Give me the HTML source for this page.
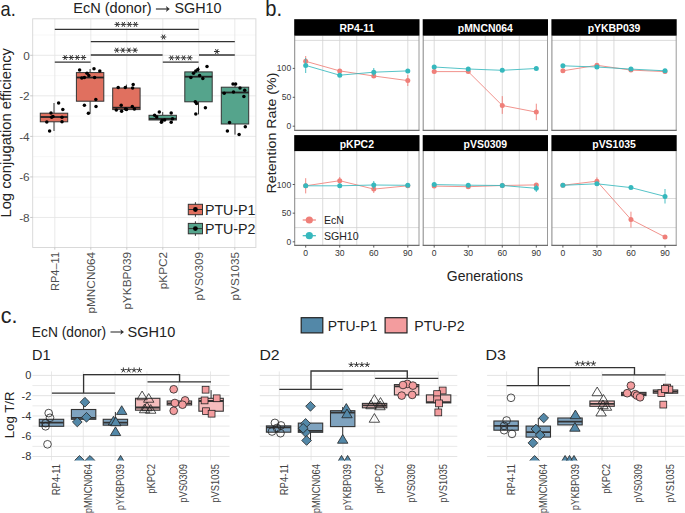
<!DOCTYPE html>
<html><head><meta charset="utf-8"><style>
html,body{margin:0;padding:0;background:#fff;}
svg{display:block;}
text{font-family:"Liberation Sans", sans-serif;}
</style></head><body>
<svg width="685" height="513" viewBox="0 0 685 513">
<rect width="685" height="513" fill="#fff"/>
<text x="0.6" y="16.3" font-size="21" fill="#222" text-anchor="start" font-weight="normal" textLength="15.2" lengthAdjust="spacingAndGlyphs">a.</text>
<text x="73.3" y="13.0" font-size="14.8" fill="#222" text-anchor="start" font-weight="normal" textLength="78.3" lengthAdjust="spacingAndGlyphs">EcN (donor)</text>
<path d="M155.9 9.0L168.0 9.0" stroke="#333" stroke-width="1.2"/><path d="M165.9 6.0L169.8 9.0L165.9 12.0L166.9 9.0Z" fill="#333"/>
<text x="174.4" y="13.0" font-size="14.8" fill="#222" text-anchor="start" font-weight="normal" textLength="47.1" lengthAdjust="spacingAndGlyphs">SGH10</text>
<rect x="32.7" y="18.8" width="223.2" height="228.7" fill="white" stroke="none" stroke-width="1"/>
<line x1="32.7" y1="35.03" x2="255.9" y2="35.03" stroke="#F2F2F2" stroke-width="0.6"/>
<line x1="32.7" y1="75.57" x2="255.9" y2="75.57" stroke="#F2F2F2" stroke-width="0.6"/>
<line x1="32.7" y1="116.11" x2="255.9" y2="116.11" stroke="#F2F2F2" stroke-width="0.6"/>
<line x1="32.7" y1="156.64999999999998" x2="255.9" y2="156.64999999999998" stroke="#F2F2F2" stroke-width="0.6"/>
<line x1="32.7" y1="197.19" x2="255.9" y2="197.19" stroke="#F2F2F2" stroke-width="0.6"/>
<line x1="32.7" y1="55.3" x2="255.9" y2="55.3" stroke="#E3E3E3" stroke-width="0.8"/>
<line x1="32.7" y1="95.84" x2="255.9" y2="95.84" stroke="#E3E3E3" stroke-width="0.8"/>
<line x1="32.7" y1="136.38" x2="255.9" y2="136.38" stroke="#E3E3E3" stroke-width="0.8"/>
<line x1="32.7" y1="176.92000000000002" x2="255.9" y2="176.92000000000002" stroke="#E3E3E3" stroke-width="0.8"/>
<line x1="32.7" y1="217.45999999999998" x2="255.9" y2="217.45999999999998" stroke="#E3E3E3" stroke-width="0.8"/>
<line x1="54.8" y1="18.8" x2="54.8" y2="247.5" stroke="#E3E3E3" stroke-width="0.8"/>
<line x1="90.8" y1="18.8" x2="90.8" y2="247.5" stroke="#E3E3E3" stroke-width="0.8"/>
<line x1="126.8" y1="18.8" x2="126.8" y2="247.5" stroke="#E3E3E3" stroke-width="0.8"/>
<line x1="162.8" y1="18.8" x2="162.8" y2="247.5" stroke="#E3E3E3" stroke-width="0.8"/>
<line x1="198.8" y1="18.8" x2="198.8" y2="247.5" stroke="#E3E3E3" stroke-width="0.8"/>
<line x1="234.8" y1="18.8" x2="234.8" y2="247.5" stroke="#E3E3E3" stroke-width="0.8"/>
<rect x="32.7" y="18.8" width="223.2" height="228.7" fill="none" stroke="#D6D6D6" stroke-width="0.9"/>
<line x1="30.200000000000003" y1="55.3" x2="32.7" y2="55.3" stroke="#BBBBBB" stroke-width="0.8"/>
<text x="29.7" y="59.5" font-size="11.8" fill="#4D4D4D" text-anchor="end" font-weight="normal">0</text>
<line x1="30.200000000000003" y1="95.84" x2="32.7" y2="95.84" stroke="#BBBBBB" stroke-width="0.8"/>
<text x="29.7" y="100.04" font-size="11.8" fill="#4D4D4D" text-anchor="end" font-weight="normal">-2</text>
<line x1="30.200000000000003" y1="136.38" x2="32.7" y2="136.38" stroke="#BBBBBB" stroke-width="0.8"/>
<text x="29.7" y="140.57999999999998" font-size="11.8" fill="#4D4D4D" text-anchor="end" font-weight="normal">-4</text>
<line x1="30.200000000000003" y1="176.92000000000002" x2="32.7" y2="176.92000000000002" stroke="#BBBBBB" stroke-width="0.8"/>
<text x="29.7" y="181.12" font-size="11.8" fill="#4D4D4D" text-anchor="end" font-weight="normal">-6</text>
<line x1="30.200000000000003" y1="217.45999999999998" x2="32.7" y2="217.45999999999998" stroke="#BBBBBB" stroke-width="0.8"/>
<text x="29.7" y="221.65999999999997" font-size="11.8" fill="#4D4D4D" text-anchor="end" font-weight="normal">-8</text>
<line x1="54.8" y1="247.5" x2="54.8" y2="249.7" stroke="#BBBBBB" stroke-width="0.8"/>
<line x1="90.8" y1="247.5" x2="90.8" y2="249.7" stroke="#BBBBBB" stroke-width="0.8"/>
<line x1="126.8" y1="247.5" x2="126.8" y2="249.7" stroke="#BBBBBB" stroke-width="0.8"/>
<line x1="162.8" y1="247.5" x2="162.8" y2="249.7" stroke="#BBBBBB" stroke-width="0.8"/>
<line x1="198.8" y1="247.5" x2="198.8" y2="249.7" stroke="#BBBBBB" stroke-width="0.8"/>
<line x1="234.8" y1="247.5" x2="234.8" y2="249.7" stroke="#BBBBBB" stroke-width="0.8"/>
<text x="59.0" y="251.9" font-size="11.8" fill="#4D4D4D" text-anchor="end" font-weight="normal" transform="rotate(-90 59.0 251.9)" textLength="39.2" lengthAdjust="spacingAndGlyphs">RP4–11</text>
<text x="95.0" y="251.9" font-size="11.8" fill="#4D4D4D" text-anchor="end" font-weight="normal" transform="rotate(-90 95.0 251.9)">pMNCN064</text>
<text x="131.0" y="251.9" font-size="11.8" fill="#4D4D4D" text-anchor="end" font-weight="normal" transform="rotate(-90 131.0 251.9)">pYKBP039</text>
<text x="167.0" y="251.9" font-size="11.8" fill="#4D4D4D" text-anchor="end" font-weight="normal" transform="rotate(-90 167.0 251.9)">pKPC2</text>
<text x="203.0" y="251.9" font-size="11.8" fill="#4D4D4D" text-anchor="end" font-weight="normal" transform="rotate(-90 203.0 251.9)">pVS0309</text>
<text x="239.0" y="251.9" font-size="11.8" fill="#4D4D4D" text-anchor="end" font-weight="normal" transform="rotate(-90 239.0 251.9)">pVS1035</text>
<text x="11.4" y="132.8" font-size="14.2" fill="#222" text-anchor="middle" font-weight="normal" transform="rotate(-90 11.4 132.8)" textLength="169.5" lengthAdjust="spacingAndGlyphs">Log conjugation efficiency</text>
<line x1="54.0" y1="103.0" x2="54.0" y2="113.2" stroke="#333333" stroke-width="1.0"/>
<line x1="54.0" y1="121.8" x2="54.0" y2="131.0" stroke="#333333" stroke-width="1.0"/>
<rect x="40.3" y="113.2" width="27.4" height="8.599999999999994" fill="#E0705F" stroke="#333333" stroke-width="1.0"/>
<line x1="40.3" y1="117.0" x2="67.7" y2="117.0" stroke="#222" stroke-width="1.8"/>
<line x1="90.1" y1="69.0" x2="90.1" y2="72.6" stroke="#333333" stroke-width="1.0"/>
<line x1="90.1" y1="101.2" x2="90.1" y2="113.5" stroke="#333333" stroke-width="1.0"/>
<rect x="76.39999999999999" y="72.6" width="27.4" height="28.60000000000001" fill="#E0705F" stroke="#333333" stroke-width="1.0"/>
<line x1="76.39999999999999" y1="77.5" x2="103.8" y2="77.5" stroke="#222" stroke-width="1.8"/>
<line x1="126.4" y1="84.6" x2="126.4" y2="88.0" stroke="#333333" stroke-width="1.0"/>
<line x1="126.4" y1="109.6" x2="126.4" y2="110.8" stroke="#333333" stroke-width="1.0"/>
<rect x="112.7" y="88.0" width="27.4" height="21.599999999999994" fill="#E0705F" stroke="#333333" stroke-width="1.0"/>
<line x1="112.7" y1="107.7" x2="140.1" y2="107.7" stroke="#222" stroke-width="1.8"/>
<line x1="162.7" y1="112.1" x2="162.7" y2="115.3" stroke="#333333" stroke-width="1.0"/>
<line x1="162.7" y1="120.0" x2="162.7" y2="122.3" stroke="#333333" stroke-width="1.0"/>
<rect x="149.0" y="115.3" width="27.4" height="4.700000000000003" fill="#55A48C" stroke="#333333" stroke-width="1.0"/>
<line x1="149.0" y1="118.8" x2="176.39999999999998" y2="118.8" stroke="#222" stroke-width="1.8"/>
<line x1="198.5" y1="66.7" x2="198.5" y2="71.9" stroke="#333333" stroke-width="1.0"/>
<line x1="198.5" y1="101.8" x2="198.5" y2="114.4" stroke="#333333" stroke-width="1.0"/>
<rect x="184.8" y="71.9" width="27.4" height="29.89999999999999" fill="#55A48C" stroke="#333333" stroke-width="1.0"/>
<line x1="184.8" y1="76.7" x2="212.2" y2="76.7" stroke="#222" stroke-width="1.8"/>
<line x1="235.0" y1="84.2" x2="235.0" y2="87.2" stroke="#333333" stroke-width="1.0"/>
<line x1="235.0" y1="124.0" x2="235.0" y2="134.6" stroke="#333333" stroke-width="1.0"/>
<rect x="221.3" y="87.2" width="27.4" height="36.8" fill="#55A48C" stroke="#333333" stroke-width="1.0"/>
<line x1="221.3" y1="92.5" x2="248.7" y2="92.5" stroke="#222" stroke-width="1.8"/>
<circle cx="58.6" cy="103" r="1.75" fill="#000" stroke="none" stroke-width="1"/>
<circle cx="62.8" cy="109.5" r="1.75" fill="#000" stroke="none" stroke-width="1"/>
<circle cx="51" cy="113" r="1.75" fill="#000" stroke="none" stroke-width="1"/>
<circle cx="51.6" cy="117.2" r="1.75" fill="#000" stroke="none" stroke-width="1"/>
<circle cx="53" cy="116.6" r="1.75" fill="#000" stroke="none" stroke-width="1"/>
<circle cx="62" cy="117.2" r="1.75" fill="#000" stroke="none" stroke-width="1"/>
<circle cx="46.8" cy="122" r="1.75" fill="#000" stroke="none" stroke-width="1"/>
<circle cx="62" cy="121.8" r="1.75" fill="#000" stroke="none" stroke-width="1"/>
<circle cx="49.6" cy="131" r="1.75" fill="#000" stroke="none" stroke-width="1"/>
<circle cx="79.6" cy="70" r="1.75" fill="#000" stroke="none" stroke-width="1"/>
<circle cx="94" cy="68.8" r="1.75" fill="#000" stroke="none" stroke-width="1"/>
<circle cx="99.8" cy="70.9" r="1.75" fill="#000" stroke="none" stroke-width="1"/>
<circle cx="87" cy="73.3" r="1.75" fill="#000" stroke="none" stroke-width="1"/>
<circle cx="88.8" cy="75.4" r="1.75" fill="#000" stroke="none" stroke-width="1"/>
<circle cx="81.8" cy="78" r="1.75" fill="#000" stroke="none" stroke-width="1"/>
<circle cx="84.4" cy="77.5" r="1.75" fill="#000" stroke="none" stroke-width="1"/>
<circle cx="94.6" cy="77.5" r="1.75" fill="#000" stroke="none" stroke-width="1"/>
<circle cx="95.8" cy="99.5" r="1.75" fill="#000" stroke="none" stroke-width="1"/>
<circle cx="84.4" cy="105.3" r="1.75" fill="#000" stroke="none" stroke-width="1"/>
<circle cx="96" cy="106.5" r="1.75" fill="#000" stroke="none" stroke-width="1"/>
<circle cx="88.4" cy="113.2" r="1.75" fill="#000" stroke="none" stroke-width="1"/>
<circle cx="118.2" cy="87.5" r="1.75" fill="#000" stroke="none" stroke-width="1"/>
<circle cx="125.3" cy="87.5" r="1.75" fill="#000" stroke="none" stroke-width="1"/>
<circle cx="133.2" cy="84.6" r="1.75" fill="#000" stroke="none" stroke-width="1"/>
<circle cx="132.6" cy="88" r="1.75" fill="#000" stroke="none" stroke-width="1"/>
<circle cx="121.2" cy="105.3" r="1.75" fill="#000" stroke="none" stroke-width="1"/>
<circle cx="116.3" cy="110" r="1.75" fill="#000" stroke="none" stroke-width="1"/>
<circle cx="121.6" cy="111.2" r="1.75" fill="#000" stroke="none" stroke-width="1"/>
<circle cx="125.6" cy="109.1" r="1.75" fill="#000" stroke="none" stroke-width="1"/>
<circle cx="126.5" cy="109.6" r="1.75" fill="#000" stroke="none" stroke-width="1"/>
<circle cx="132.3" cy="106.5" r="1.75" fill="#000" stroke="none" stroke-width="1"/>
<circle cx="134.4" cy="109" r="1.75" fill="#000" stroke="none" stroke-width="1"/>
<circle cx="159.3" cy="112.1" r="1.75" fill="#000" stroke="none" stroke-width="1"/>
<circle cx="171.2" cy="113" r="1.75" fill="#000" stroke="none" stroke-width="1"/>
<circle cx="154.6" cy="115.3" r="1.75" fill="#000" stroke="none" stroke-width="1"/>
<circle cx="156.7" cy="117" r="1.75" fill="#000" stroke="none" stroke-width="1"/>
<circle cx="162" cy="120.5" r="1.75" fill="#000" stroke="none" stroke-width="1"/>
<circle cx="161.4" cy="122.3" r="1.75" fill="#000" stroke="none" stroke-width="1"/>
<circle cx="164.6" cy="120" r="1.75" fill="#000" stroke="none" stroke-width="1"/>
<circle cx="171.2" cy="122.3" r="1.75" fill="#000" stroke="none" stroke-width="1"/>
<circle cx="172.5" cy="118.8" r="1.75" fill="#000" stroke="none" stroke-width="1"/>
<circle cx="207" cy="66.5" r="1.75" fill="#000" stroke="none" stroke-width="1"/>
<circle cx="197.9" cy="69.6" r="1.75" fill="#000" stroke="none" stroke-width="1"/>
<circle cx="195.8" cy="70.9" r="1.75" fill="#000" stroke="none" stroke-width="1"/>
<circle cx="193.5" cy="73.2" r="1.75" fill="#000" stroke="none" stroke-width="1"/>
<circle cx="190.9" cy="77.5" r="1.75" fill="#000" stroke="none" stroke-width="1"/>
<circle cx="199.6" cy="75.4" r="1.75" fill="#000" stroke="none" stroke-width="1"/>
<circle cx="202.8" cy="78.4" r="1.75" fill="#000" stroke="none" stroke-width="1"/>
<circle cx="195.3" cy="101.8" r="1.75" fill="#000" stroke="none" stroke-width="1"/>
<circle cx="196.5" cy="103.5" r="1.75" fill="#000" stroke="none" stroke-width="1"/>
<circle cx="205.4" cy="107.7" r="1.75" fill="#000" stroke="none" stroke-width="1"/>
<circle cx="195.8" cy="114" r="1.75" fill="#000" stroke="none" stroke-width="1"/>
<circle cx="233" cy="84" r="1.75" fill="#000" stroke="none" stroke-width="1"/>
<circle cx="235.6" cy="84" r="1.75" fill="#000" stroke="none" stroke-width="1"/>
<circle cx="240" cy="88" r="1.75" fill="#000" stroke="none" stroke-width="1"/>
<circle cx="244.7" cy="90.2" r="1.75" fill="#000" stroke="none" stroke-width="1"/>
<circle cx="224.2" cy="93.3" r="1.75" fill="#000" stroke="none" stroke-width="1"/>
<circle cx="233.5" cy="92" r="1.75" fill="#000" stroke="none" stroke-width="1"/>
<circle cx="243.9" cy="96.5" r="1.75" fill="#000" stroke="none" stroke-width="1"/>
<circle cx="229.5" cy="122.6" r="1.75" fill="#000" stroke="none" stroke-width="1"/>
<circle cx="245.3" cy="126.7" r="1.75" fill="#000" stroke="none" stroke-width="1"/>
<circle cx="227.4" cy="131" r="1.75" fill="#000" stroke="none" stroke-width="1"/>
<circle cx="239.1" cy="134.6" r="1.75" fill="#000" stroke="none" stroke-width="1"/>
<line x1="54.8" y1="29.3" x2="198.8" y2="29.3" stroke="#333333" stroke-width="1.3"/>
<path d="M114.50 24.40L120.09 24.40M115.89 21.98L118.70 26.82M118.70 21.98L115.89 26.82" stroke="#333333" stroke-width="1.0" fill="none"/>
<path d="M120.57 24.40L126.17 24.40M121.97 21.98L124.77 26.82M124.77 21.98L121.97 26.82" stroke="#333333" stroke-width="1.0" fill="none"/>
<path d="M126.64 24.40L132.24 24.40M128.03 21.98L130.84 26.82M130.84 21.98L128.03 26.82" stroke="#333333" stroke-width="1.0" fill="none"/>
<path d="M132.70 24.40L138.31 24.40M134.10 21.98L136.91 26.82M136.91 21.98L134.10 26.82" stroke="#333333" stroke-width="1.0" fill="none"/>
<line x1="90.8" y1="41.6" x2="234.8" y2="41.6" stroke="#333333" stroke-width="1.3"/>
<path d="M160.70 37.00L166.30 37.00M162.10 34.58L164.90 39.42M164.90 34.58L162.10 39.42" stroke="#333333" stroke-width="1.0" fill="none"/>
<line x1="90.8" y1="55.0" x2="162.6" y2="55.0" stroke="#333333" stroke-width="1.3"/>
<path d="M114.00 50.20L119.59 50.20M115.39 47.78L118.20 52.62M118.20 47.78L115.39 52.62" stroke="#333333" stroke-width="1.0" fill="none"/>
<path d="M120.07 50.20L125.67 50.20M121.47 47.78L124.27 52.62M124.27 47.78L121.47 52.62" stroke="#333333" stroke-width="1.0" fill="none"/>
<path d="M126.14 50.20L131.74 50.20M127.53 47.78L130.34 52.62M130.34 47.78L127.53 52.62" stroke="#333333" stroke-width="1.0" fill="none"/>
<path d="M132.20 50.20L137.81 50.20M133.60 47.78L136.41 52.62M136.41 47.78L133.60 52.62" stroke="#333333" stroke-width="1.0" fill="none"/>
<line x1="199.0" y1="55.0" x2="234.8" y2="55.0" stroke="#333333" stroke-width="1.3"/>
<path d="M214.00 51.50L219.60 51.50M215.40 49.08L218.20 53.92M218.20 49.08L215.40 53.92" stroke="#333333" stroke-width="1.0" fill="none"/>
<line x1="54.8" y1="62.2" x2="90.6" y2="62.2" stroke="#333333" stroke-width="1.3"/>
<path d="M62.39 57.50L67.99 57.50M63.79 55.08L66.59 59.92M66.59 55.08L63.79 59.92" stroke="#333333" stroke-width="1.0" fill="none"/>
<path d="M68.47 57.50L74.06 57.50M69.86 55.08L72.67 59.92M72.67 55.08L69.86 59.92" stroke="#333333" stroke-width="1.0" fill="none"/>
<path d="M74.53 57.50L80.13 57.50M75.93 55.08L78.73 59.92M78.73 55.08L75.93 59.92" stroke="#333333" stroke-width="1.0" fill="none"/>
<path d="M80.61 57.50L86.20 57.50M82.00 55.08L84.81 59.92M84.81 55.08L82.00 59.92" stroke="#333333" stroke-width="1.0" fill="none"/>
<line x1="162.8" y1="62.1" x2="198.6" y2="62.1" stroke="#333333" stroke-width="1.3"/>
<path d="M168.69 57.80L174.30 57.80M170.09 55.38L172.90 60.22M172.90 55.38L170.09 60.22" stroke="#333333" stroke-width="1.0" fill="none"/>
<path d="M174.76 57.80L180.37 57.80M176.16 55.38L178.97 60.22M178.97 55.38L176.16 60.22" stroke="#333333" stroke-width="1.0" fill="none"/>
<path d="M180.83 57.80L186.44 57.80M182.23 55.38L185.03 60.22M185.03 55.38L182.23 60.22" stroke="#333333" stroke-width="1.0" fill="none"/>
<path d="M186.90 57.80L192.50 57.80M188.30 55.38L191.10 60.22M191.10 55.38L188.30 60.22" stroke="#333333" stroke-width="1.0" fill="none"/>
<line x1="195.4" y1="202.2" x2="195.4" y2="216.8" stroke="#333333" stroke-width="1.0"/>
<rect x="188.3" y="204.3" width="14.2" height="10.4" fill="#E0705F" stroke="#333333" stroke-width="1.0"/>
<line x1="188.3" y1="209.5" x2="202.5" y2="209.5" stroke="#333333" stroke-width="1.0"/>
<circle cx="195.4" cy="209.5" r="2.4" fill="#000" stroke="none" stroke-width="1"/>
<text x="204.9" y="214.6" font-size="14.2" fill="#222" text-anchor="start" font-weight="normal" textLength="50.6" lengthAdjust="spacingAndGlyphs">PTU-P1</text>
<line x1="195.4" y1="221.29999999999998" x2="195.4" y2="235.9" stroke="#333333" stroke-width="1.0"/>
<rect x="188.3" y="223.4" width="14.2" height="10.4" fill="#55A48C" stroke="#333333" stroke-width="1.0"/>
<line x1="188.3" y1="228.6" x2="202.5" y2="228.6" stroke="#333333" stroke-width="1.0"/>
<circle cx="195.4" cy="228.6" r="2.4" fill="#000" stroke="none" stroke-width="1"/>
<text x="204.9" y="233.7" font-size="14.2" fill="#222" text-anchor="start" font-weight="normal" textLength="50.6" lengthAdjust="spacingAndGlyphs">PTU-P2</text>
<text x="265.3" y="15.7" font-size="22.5" fill="#222" text-anchor="start" font-weight="normal" textLength="16.8" lengthAdjust="spacingAndGlyphs">b.</text>
<rect x="294.7" y="35.7" width="124.3" height="94.7" fill="white" stroke="none" stroke-width="1"/>
<line x1="294.7" y1="40.4" x2="419.0" y2="40.4" stroke="#D2D2D2" stroke-width="0.8"/>
<line x1="322.71666666666664" y1="35.7" x2="322.71666666666664" y2="130.4" stroke="#D2D2D2" stroke-width="0.8"/>
<line x1="339.73333333333335" y1="35.7" x2="339.73333333333335" y2="130.4" stroke="#D2D2D2" stroke-width="0.8"/>
<line x1="356.75" y1="35.7" x2="356.75" y2="130.4" stroke="#D2D2D2" stroke-width="0.8"/>
<line x1="407.79999999999995" y1="35.7" x2="407.79999999999995" y2="130.4" stroke="#D2D2D2" stroke-width="0.8"/>
<line x1="294.7" y1="35.7" x2="294.7" y2="130.4" stroke="#8A8A8A" stroke-width="1.05"/>
<line x1="419.0" y1="35.7" x2="419.0" y2="130.4" stroke="#9A9A9A" stroke-width="1.0"/>
<line x1="294.2" y1="130.4" x2="419.5" y2="130.4" stroke="#6E6E6E" stroke-width="1.1"/>
<rect x="294.2" y="19.2" width="125.3" height="16.500000000000004" fill="#000" stroke="none" stroke-width="1"/>
<text x="356.84999999999997" y="31.6" font-size="10.45" fill="#fff" text-anchor="middle" font-weight="bold">RP4-11</text>
<polyline points="305.7,61.3 339.7,70.9 373.8,76.0 407.8,80.6" fill="none" stroke="#EF7F79" stroke-width="0.85"/>
<line x1="305.7" y1="56" x2="305.7" y2="67" stroke="#EF7F79" stroke-width="0.9"/>
<circle cx="305.7" cy="61.3" r="2.5" fill="#EF7F79" stroke="none" stroke-width="1"/>
<circle cx="339.73333333333335" cy="70.9" r="2.5" fill="#EF7F79" stroke="none" stroke-width="1"/>
<circle cx="373.76666666666665" cy="76.0" r="2.5" fill="#EF7F79" stroke="none" stroke-width="1"/>
<line x1="407.79999999999995" y1="75" x2="407.79999999999995" y2="86" stroke="#EF7F79" stroke-width="0.9"/>
<circle cx="407.79999999999995" cy="80.6" r="2.5" fill="#EF7F79" stroke="none" stroke-width="1"/>
<polyline points="305.7,65.4 339.7,75.2 373.8,72.2 407.8,70.9" fill="none" stroke="#36B8BD" stroke-width="0.85"/>
<line x1="305.7" y1="58" x2="305.7" y2="73" stroke="#36B8BD" stroke-width="0.9"/>
<circle cx="305.7" cy="65.4" r="2.5" fill="#36B8BD" stroke="none" stroke-width="1"/>
<circle cx="339.73333333333335" cy="75.2" r="2.5" fill="#36B8BD" stroke="none" stroke-width="1"/>
<line x1="373.76666666666665" y1="68" x2="373.76666666666665" y2="76" stroke="#36B8BD" stroke-width="0.9"/>
<circle cx="373.76666666666665" cy="72.2" r="2.5" fill="#36B8BD" stroke="none" stroke-width="1"/>
<circle cx="407.79999999999995" cy="70.9" r="2.5" fill="#36B8BD" stroke="none" stroke-width="1"/>
<rect x="423.2" y="35.7" width="124.3" height="94.7" fill="white" stroke="none" stroke-width="1"/>
<line x1="423.2" y1="40.4" x2="547.5" y2="40.4" stroke="#D2D2D2" stroke-width="0.8"/>
<line x1="434.2" y1="35.7" x2="434.2" y2="130.4" stroke="#D2D2D2" stroke-width="0.8"/>
<line x1="485.25" y1="35.7" x2="485.25" y2="130.4" stroke="#D2D2D2" stroke-width="0.8"/>
<line x1="502.26666666666665" y1="35.7" x2="502.26666666666665" y2="130.4" stroke="#D2D2D2" stroke-width="0.8"/>
<line x1="519.2833333333333" y1="35.7" x2="519.2833333333333" y2="130.4" stroke="#D2D2D2" stroke-width="0.8"/>
<line x1="423.2" y1="35.7" x2="423.2" y2="130.4" stroke="#8A8A8A" stroke-width="1.05"/>
<line x1="547.5" y1="35.7" x2="547.5" y2="130.4" stroke="#9A9A9A" stroke-width="1.0"/>
<line x1="422.7" y1="130.4" x2="548.0" y2="130.4" stroke="#6E6E6E" stroke-width="1.1"/>
<rect x="422.7" y="19.2" width="125.3" height="16.500000000000004" fill="#000" stroke="none" stroke-width="1"/>
<text x="485.34999999999997" y="31.6" font-size="10.45" fill="#fff" text-anchor="middle" font-weight="bold">pMNCN064</text>
<polyline points="434.2,71.6 468.2,71.6 502.3,105.5 536.3,112.1" fill="none" stroke="#EF7F79" stroke-width="0.85"/>
<circle cx="434.2" cy="71.6" r="2.5" fill="#EF7F79" stroke="none" stroke-width="1"/>
<circle cx="468.23333333333335" cy="71.6" r="2.5" fill="#EF7F79" stroke="none" stroke-width="1"/>
<line x1="502.26666666666665" y1="96.1" x2="502.26666666666665" y2="113.9" stroke="#EF7F79" stroke-width="0.9"/>
<circle cx="502.26666666666665" cy="105.5" r="2.5" fill="#EF7F79" stroke="none" stroke-width="1"/>
<line x1="536.3" y1="103.7" x2="536.3" y2="120.2" stroke="#EF7F79" stroke-width="0.9"/>
<circle cx="536.3" cy="112.1" r="2.5" fill="#EF7F79" stroke="none" stroke-width="1"/>
<polyline points="434.2,67.0 468.2,69.0 502.3,70.3 536.3,68.5" fill="none" stroke="#36B8BD" stroke-width="0.85"/>
<circle cx="434.2" cy="67.0" r="2.5" fill="#36B8BD" stroke="none" stroke-width="1"/>
<circle cx="468.23333333333335" cy="69.0" r="2.5" fill="#36B8BD" stroke="none" stroke-width="1"/>
<circle cx="502.26666666666665" cy="70.3" r="2.5" fill="#36B8BD" stroke="none" stroke-width="1"/>
<circle cx="536.3" cy="68.5" r="2.5" fill="#36B8BD" stroke="none" stroke-width="1"/>
<rect x="551.9" y="35.7" width="124.3" height="94.7" fill="white" stroke="none" stroke-width="1"/>
<line x1="551.9" y1="40.4" x2="676.1999999999999" y2="40.4" stroke="#D2D2D2" stroke-width="0.8"/>
<line x1="579.9166666666666" y1="35.7" x2="579.9166666666666" y2="130.4" stroke="#D2D2D2" stroke-width="0.8"/>
<line x1="596.9333333333333" y1="35.7" x2="596.9333333333333" y2="130.4" stroke="#D2D2D2" stroke-width="0.8"/>
<line x1="613.9499999999999" y1="35.7" x2="613.9499999999999" y2="130.4" stroke="#D2D2D2" stroke-width="0.8"/>
<line x1="551.9" y1="35.7" x2="551.9" y2="130.4" stroke="#8A8A8A" stroke-width="1.05"/>
<line x1="676.1999999999999" y1="35.7" x2="676.1999999999999" y2="130.4" stroke="#9A9A9A" stroke-width="1.0"/>
<line x1="551.4" y1="130.4" x2="676.6999999999999" y2="130.4" stroke="#6E6E6E" stroke-width="1.1"/>
<rect x="551.4" y="19.2" width="125.3" height="16.500000000000004" fill="#000" stroke="none" stroke-width="1"/>
<text x="614.05" y="31.6" font-size="10.45" fill="#fff" text-anchor="middle" font-weight="bold">pYKBP039</text>
<polyline points="562.9,70.8 596.9,65.3 631.0,70.1 665.0,71.6" fill="none" stroke="#EF7F79" stroke-width="0.85"/>
<circle cx="562.9" cy="70.8" r="2.5" fill="#EF7F79" stroke="none" stroke-width="1"/>
<circle cx="596.9333333333333" cy="65.3" r="2.5" fill="#EF7F79" stroke="none" stroke-width="1"/>
<circle cx="630.9666666666667" cy="70.1" r="2.5" fill="#EF7F79" stroke="none" stroke-width="1"/>
<circle cx="665.0" cy="71.6" r="2.5" fill="#EF7F79" stroke="none" stroke-width="1"/>
<polyline points="562.9,65.8 596.9,67.0 631.0,69.1 665.0,70.8" fill="none" stroke="#36B8BD" stroke-width="0.85"/>
<circle cx="562.9" cy="65.8" r="2.5" fill="#36B8BD" stroke="none" stroke-width="1"/>
<circle cx="596.9333333333333" cy="67.0" r="2.5" fill="#36B8BD" stroke="none" stroke-width="1"/>
<circle cx="630.9666666666667" cy="69.1" r="2.5" fill="#36B8BD" stroke="none" stroke-width="1"/>
<circle cx="665.0" cy="70.8" r="2.5" fill="#36B8BD" stroke="none" stroke-width="1"/>
<line x1="292.7" y1="68.4" x2="294.7" y2="68.4" stroke="#333" stroke-width="0.8"/>
<text x="291.2" y="71.4" font-size="8.6" fill="#3a3a3a" text-anchor="end" font-weight="normal">100</text>
<line x1="292.7" y1="97.30000000000001" x2="294.7" y2="97.30000000000001" stroke="#333" stroke-width="0.8"/>
<text x="291.2" y="100.30000000000001" font-size="8.6" fill="#3a3a3a" text-anchor="end" font-weight="normal">50</text>
<line x1="292.7" y1="126.2" x2="294.7" y2="126.2" stroke="#333" stroke-width="0.8"/>
<text x="291.2" y="129.2" font-size="8.6" fill="#3a3a3a" text-anchor="end" font-weight="normal">0</text>
<rect x="294.7" y="151.1" width="124.3" height="94.30000000000001" fill="white" stroke="none" stroke-width="1"/>
<line x1="294.7" y1="198.5" x2="419.0" y2="198.5" stroke="#D2D2D2" stroke-width="0.8"/>
<line x1="294.7" y1="227.6" x2="419.0" y2="227.6" stroke="#D2D2D2" stroke-width="0.8"/>
<line x1="322.71666666666664" y1="151.1" x2="322.71666666666664" y2="245.4" stroke="#D2D2D2" stroke-width="0.8"/>
<line x1="339.73333333333335" y1="151.1" x2="339.73333333333335" y2="245.4" stroke="#D2D2D2" stroke-width="0.8"/>
<line x1="356.75" y1="151.1" x2="356.75" y2="245.4" stroke="#D2D2D2" stroke-width="0.8"/>
<line x1="407.79999999999995" y1="151.1" x2="407.79999999999995" y2="245.4" stroke="#D2D2D2" stroke-width="0.8"/>
<line x1="294.7" y1="151.1" x2="294.7" y2="245.4" stroke="#8A8A8A" stroke-width="1.05"/>
<line x1="419.0" y1="151.1" x2="419.0" y2="245.4" stroke="#9A9A9A" stroke-width="1.0"/>
<line x1="294.2" y1="245.4" x2="419.5" y2="245.4" stroke="#6E6E6E" stroke-width="1.1"/>
<rect x="294.2" y="135.1" width="125.3" height="16.0" fill="#000" stroke="none" stroke-width="1"/>
<text x="356.84999999999997" y="147.5" font-size="10.45" fill="#fff" text-anchor="middle" font-weight="bold">pKPC2</text>
<polyline points="305.7,185.8 339.7,180.7 373.8,189.1 407.8,185.8" fill="none" stroke="#EF7F79" stroke-width="0.85"/>
<line x1="305.7" y1="178.2" x2="305.7" y2="193.4" stroke="#EF7F79" stroke-width="0.9"/>
<circle cx="305.7" cy="185.8" r="2.5" fill="#EF7F79" stroke="none" stroke-width="1"/>
<line x1="339.73333333333335" y1="177" x2="339.73333333333335" y2="184" stroke="#EF7F79" stroke-width="0.9"/>
<circle cx="339.73333333333335" cy="180.7" r="2.5" fill="#EF7F79" stroke="none" stroke-width="1"/>
<line x1="373.76666666666665" y1="185" x2="373.76666666666665" y2="193" stroke="#EF7F79" stroke-width="0.9"/>
<circle cx="373.76666666666665" cy="189.1" r="2.5" fill="#EF7F79" stroke="none" stroke-width="1"/>
<circle cx="407.79999999999995" cy="185.8" r="2.5" fill="#EF7F79" stroke="none" stroke-width="1"/>
<polyline points="305.7,185.8 339.7,185.8 373.8,185.0 407.8,185.3" fill="none" stroke="#36B8BD" stroke-width="0.85"/>
<circle cx="305.7" cy="185.8" r="2.5" fill="#36B8BD" stroke="none" stroke-width="1"/>
<circle cx="339.73333333333335" cy="185.8" r="2.5" fill="#36B8BD" stroke="none" stroke-width="1"/>
<line x1="373.76666666666665" y1="181" x2="373.76666666666665" y2="189" stroke="#36B8BD" stroke-width="0.9"/>
<circle cx="373.76666666666665" cy="185.0" r="2.5" fill="#36B8BD" stroke="none" stroke-width="1"/>
<circle cx="407.79999999999995" cy="185.3" r="2.5" fill="#36B8BD" stroke="none" stroke-width="1"/>
<rect x="423.2" y="151.1" width="124.3" height="94.30000000000001" fill="white" stroke="none" stroke-width="1"/>
<line x1="423.2" y1="198.5" x2="547.5" y2="198.5" stroke="#D2D2D2" stroke-width="0.8"/>
<line x1="423.2" y1="227.6" x2="547.5" y2="227.6" stroke="#D2D2D2" stroke-width="0.8"/>
<line x1="434.2" y1="151.1" x2="434.2" y2="245.4" stroke="#D2D2D2" stroke-width="0.8"/>
<line x1="485.25" y1="151.1" x2="485.25" y2="245.4" stroke="#D2D2D2" stroke-width="0.8"/>
<line x1="502.26666666666665" y1="151.1" x2="502.26666666666665" y2="245.4" stroke="#D2D2D2" stroke-width="0.8"/>
<line x1="519.2833333333333" y1="151.1" x2="519.2833333333333" y2="245.4" stroke="#D2D2D2" stroke-width="0.8"/>
<line x1="423.2" y1="151.1" x2="423.2" y2="245.4" stroke="#8A8A8A" stroke-width="1.05"/>
<line x1="547.5" y1="151.1" x2="547.5" y2="245.4" stroke="#9A9A9A" stroke-width="1.0"/>
<line x1="422.7" y1="245.4" x2="548.0" y2="245.4" stroke="#6E6E6E" stroke-width="1.1"/>
<rect x="422.7" y="135.1" width="125.3" height="16.0" fill="#000" stroke="none" stroke-width="1"/>
<text x="485.34999999999997" y="147.5" font-size="10.45" fill="#fff" text-anchor="middle" font-weight="bold">pVS0309</text>
<polyline points="434.2,186.1 468.2,186.7 502.3,185.5 536.3,184.9" fill="none" stroke="#EF7F79" stroke-width="0.85"/>
<circle cx="434.2" cy="186.1" r="2.5" fill="#EF7F79" stroke="none" stroke-width="1"/>
<circle cx="468.23333333333335" cy="186.7" r="2.5" fill="#EF7F79" stroke="none" stroke-width="1"/>
<circle cx="502.26666666666665" cy="185.5" r="2.5" fill="#EF7F79" stroke="none" stroke-width="1"/>
<circle cx="536.3" cy="184.9" r="2.5" fill="#EF7F79" stroke="none" stroke-width="1"/>
<polyline points="434.2,184.6 468.2,185.2 502.3,185.5 536.3,188.3" fill="none" stroke="#36B8BD" stroke-width="0.85"/>
<circle cx="434.2" cy="184.6" r="2.5" fill="#36B8BD" stroke="none" stroke-width="1"/>
<circle cx="468.23333333333335" cy="185.2" r="2.5" fill="#36B8BD" stroke="none" stroke-width="1"/>
<circle cx="502.26666666666665" cy="185.5" r="2.5" fill="#36B8BD" stroke="none" stroke-width="1"/>
<line x1="536.3" y1="184.5" x2="536.3" y2="192" stroke="#36B8BD" stroke-width="0.9"/>
<circle cx="536.3" cy="188.3" r="2.5" fill="#36B8BD" stroke="none" stroke-width="1"/>
<rect x="551.9" y="151.1" width="124.3" height="94.30000000000001" fill="white" stroke="none" stroke-width="1"/>
<line x1="551.9" y1="198.5" x2="676.1999999999999" y2="198.5" stroke="#D2D2D2" stroke-width="0.8"/>
<line x1="551.9" y1="227.6" x2="676.1999999999999" y2="227.6" stroke="#D2D2D2" stroke-width="0.8"/>
<line x1="579.9166666666666" y1="151.1" x2="579.9166666666666" y2="245.4" stroke="#D2D2D2" stroke-width="0.8"/>
<line x1="596.9333333333333" y1="151.1" x2="596.9333333333333" y2="245.4" stroke="#D2D2D2" stroke-width="0.8"/>
<line x1="613.9499999999999" y1="151.1" x2="613.9499999999999" y2="245.4" stroke="#D2D2D2" stroke-width="0.8"/>
<line x1="551.9" y1="151.1" x2="551.9" y2="245.4" stroke="#8A8A8A" stroke-width="1.05"/>
<line x1="676.1999999999999" y1="151.1" x2="676.1999999999999" y2="245.4" stroke="#9A9A9A" stroke-width="1.0"/>
<line x1="551.4" y1="245.4" x2="676.6999999999999" y2="245.4" stroke="#6E6E6E" stroke-width="1.1"/>
<rect x="551.4" y="135.1" width="125.3" height="16.0" fill="#000" stroke="none" stroke-width="1"/>
<text x="614.05" y="147.5" font-size="10.45" fill="#fff" text-anchor="middle" font-weight="bold">pVS1035</text>
<polyline points="562.9,185.3 596.9,181.2 631.0,219.5 665.0,237.0" fill="none" stroke="#EF7F79" stroke-width="0.85"/>
<circle cx="562.9" cy="185.3" r="2.5" fill="#EF7F79" stroke="none" stroke-width="1"/>
<line x1="596.9333333333333" y1="177.4" x2="596.9333333333333" y2="185" stroke="#EF7F79" stroke-width="0.9"/>
<circle cx="596.9333333333333" cy="181.2" r="2.5" fill="#EF7F79" stroke="none" stroke-width="1"/>
<line x1="630.9666666666667" y1="211.7" x2="630.9666666666667" y2="227.6" stroke="#EF7F79" stroke-width="0.9"/>
<circle cx="630.9666666666667" cy="219.5" r="2.5" fill="#EF7F79" stroke="none" stroke-width="1"/>
<circle cx="665.0" cy="237.0" r="2.5" fill="#EF7F79" stroke="none" stroke-width="1"/>
<polyline points="562.9,185.3 596.9,183.8 631.0,187.6 665.0,196.4" fill="none" stroke="#36B8BD" stroke-width="0.85"/>
<circle cx="562.9" cy="185.3" r="2.5" fill="#36B8BD" stroke="none" stroke-width="1"/>
<circle cx="596.9333333333333" cy="183.8" r="2.5" fill="#36B8BD" stroke="none" stroke-width="1"/>
<circle cx="630.9666666666667" cy="187.6" r="2.5" fill="#36B8BD" stroke="none" stroke-width="1"/>
<line x1="665.0" y1="189" x2="665.0" y2="203.5" stroke="#36B8BD" stroke-width="0.9"/>
<circle cx="665.0" cy="196.4" r="2.5" fill="#36B8BD" stroke="none" stroke-width="1"/>
<line x1="292.7" y1="184.5" x2="294.7" y2="184.5" stroke="#333" stroke-width="0.8"/>
<text x="291.2" y="187.5" font-size="8.6" fill="#3a3a3a" text-anchor="end" font-weight="normal">100</text>
<line x1="292.7" y1="213.165" x2="294.7" y2="213.165" stroke="#333" stroke-width="0.8"/>
<text x="291.2" y="216.165" font-size="8.6" fill="#3a3a3a" text-anchor="end" font-weight="normal">50</text>
<line x1="292.7" y1="241.83" x2="294.7" y2="241.83" stroke="#333" stroke-width="0.8"/>
<text x="291.2" y="244.83" font-size="8.6" fill="#3a3a3a" text-anchor="end" font-weight="normal">0</text>
<line x1="305.7" y1="245.4" x2="305.7" y2="247.6" stroke="#333" stroke-width="0.8"/>
<text x="305.7" y="256.0" font-size="8.6" fill="#333" text-anchor="middle" font-weight="normal">0</text>
<line x1="339.73333333333335" y1="245.4" x2="339.73333333333335" y2="247.6" stroke="#333" stroke-width="0.8"/>
<text x="339.73333333333335" y="256.0" font-size="8.6" fill="#333" text-anchor="middle" font-weight="normal">30</text>
<line x1="373.76666666666665" y1="245.4" x2="373.76666666666665" y2="247.6" stroke="#333" stroke-width="0.8"/>
<text x="373.76666666666665" y="256.0" font-size="8.6" fill="#333" text-anchor="middle" font-weight="normal">60</text>
<line x1="407.79999999999995" y1="245.4" x2="407.79999999999995" y2="247.6" stroke="#333" stroke-width="0.8"/>
<text x="407.79999999999995" y="256.0" font-size="8.6" fill="#333" text-anchor="middle" font-weight="normal">90</text>
<line x1="434.2" y1="245.4" x2="434.2" y2="247.6" stroke="#333" stroke-width="0.8"/>
<text x="434.2" y="256.0" font-size="8.6" fill="#333" text-anchor="middle" font-weight="normal">0</text>
<line x1="468.23333333333335" y1="245.4" x2="468.23333333333335" y2="247.6" stroke="#333" stroke-width="0.8"/>
<text x="468.23333333333335" y="256.0" font-size="8.6" fill="#333" text-anchor="middle" font-weight="normal">30</text>
<line x1="502.26666666666665" y1="245.4" x2="502.26666666666665" y2="247.6" stroke="#333" stroke-width="0.8"/>
<text x="502.26666666666665" y="256.0" font-size="8.6" fill="#333" text-anchor="middle" font-weight="normal">60</text>
<line x1="536.3" y1="245.4" x2="536.3" y2="247.6" stroke="#333" stroke-width="0.8"/>
<text x="536.3" y="256.0" font-size="8.6" fill="#333" text-anchor="middle" font-weight="normal">90</text>
<line x1="562.9" y1="245.4" x2="562.9" y2="247.6" stroke="#333" stroke-width="0.8"/>
<text x="562.9" y="256.0" font-size="8.6" fill="#333" text-anchor="middle" font-weight="normal">0</text>
<line x1="596.9333333333333" y1="245.4" x2="596.9333333333333" y2="247.6" stroke="#333" stroke-width="0.8"/>
<text x="596.9333333333333" y="256.0" font-size="8.6" fill="#333" text-anchor="middle" font-weight="normal">30</text>
<line x1="630.9666666666667" y1="245.4" x2="630.9666666666667" y2="247.6" stroke="#333" stroke-width="0.8"/>
<text x="630.9666666666667" y="256.0" font-size="8.6" fill="#333" text-anchor="middle" font-weight="normal">60</text>
<line x1="665.0" y1="245.4" x2="665.0" y2="247.6" stroke="#333" stroke-width="0.8"/>
<text x="665.0" y="256.0" font-size="8.6" fill="#333" text-anchor="middle" font-weight="normal">90</text>
<text x="275.6" y="133.0" font-size="13.3" fill="#222" text-anchor="middle" font-weight="normal" transform="rotate(-90 275.6 133.0)" textLength="120.8" lengthAdjust="spacingAndGlyphs">Retention Rate (%)</text>
<text x="446.8" y="281.4" font-size="14.8" fill="#222" text-anchor="start" font-weight="normal" textLength="76.1" lengthAdjust="spacingAndGlyphs">Generations</text>
<line x1="302.7" y1="220.0" x2="315.9" y2="220.0" stroke="#EF7F79" stroke-width="1.2"/>
<circle cx="309.3" cy="220.0" r="3.6" fill="#EF7F79" stroke="none" stroke-width="1"/>
<text x="323.9" y="224.0" font-size="10.6" fill="#222" text-anchor="start" font-weight="normal">EcN</text>
<line x1="302.7" y1="235.7" x2="315.9" y2="235.7" stroke="#36B8BD" stroke-width="1.2"/>
<circle cx="309.3" cy="235.7" r="3.6" fill="#36B8BD" stroke="none" stroke-width="1"/>
<text x="323.9" y="239.7" font-size="10.6" fill="#222" text-anchor="start" font-weight="normal">SGH10</text>
<text x="0.8" y="322.6" font-size="21.5" fill="#222" text-anchor="start" font-weight="normal">c.</text>
<text x="31.8" y="337.0" font-size="14.4" fill="#222" text-anchor="start" font-weight="normal" textLength="74.3" lengthAdjust="spacingAndGlyphs">EcN (donor)</text>
<path d="M110.5 332.0L122.2 332.0" stroke="#333" stroke-width="1.1"/><path d="M120.3 329.2L124.0 332.0L120.3 334.8L121.2 332.0Z" fill="#333"/>
<text x="127.6" y="337.0" font-size="14.4" fill="#222" text-anchor="start" font-weight="normal" textLength="47.7" lengthAdjust="spacingAndGlyphs">SGH10</text>
<rect x="301.2" y="317.7" width="21.6" height="15.2" fill="#5388A8" stroke="#222" stroke-width="1.2"/>
<text x="327.7" y="330.8" font-size="14.8" fill="#222" text-anchor="start" font-weight="normal" textLength="49.6" lengthAdjust="spacingAndGlyphs">PTU-P1</text>
<rect x="385.1" y="317.7" width="21.9" height="15.2" fill="#F39C9E" stroke="#222" stroke-width="1.2"/>
<text x="414.3" y="330.8" font-size="14.8" fill="#222" text-anchor="start" font-weight="normal" textLength="50.2" lengthAdjust="spacingAndGlyphs">PTU-P2</text>
<defs>
<clipPath id="cp0"><rect x="32.4" y="371.4" width="197.1" height="89.0"/></clipPath>
<clipPath id="cp1"><rect x="259.8" y="371.4" width="197.5" height="89.0"/></clipPath>
<clipPath id="cp2"><rect x="487.1" y="371.4" width="197.39999999999998" height="89.0"/></clipPath>
</defs>
<text x="32.0" y="359.5" font-size="15" fill="#222" text-anchor="start" font-weight="normal" textLength="18.6" lengthAdjust="spacingAndGlyphs">D1</text>
<line x1="32.4" y1="375.4" x2="229.5" y2="375.4" stroke="#DCDCDC" stroke-width="0.8"/>
<line x1="32.4" y1="385.53999999999996" x2="229.5" y2="385.53999999999996" stroke="#E4E4E4" stroke-width="0.8"/>
<line x1="32.4" y1="395.67999999999995" x2="229.5" y2="395.67999999999995" stroke="#DCDCDC" stroke-width="0.8"/>
<line x1="32.4" y1="405.82" x2="229.5" y2="405.82" stroke="#E4E4E4" stroke-width="0.8"/>
<line x1="32.4" y1="415.96" x2="229.5" y2="415.96" stroke="#DCDCDC" stroke-width="0.8"/>
<line x1="32.4" y1="426.09999999999997" x2="229.5" y2="426.09999999999997" stroke="#E4E4E4" stroke-width="0.8"/>
<line x1="32.4" y1="436.24" x2="229.5" y2="436.24" stroke="#DCDCDC" stroke-width="0.8"/>
<line x1="32.4" y1="446.38" x2="229.5" y2="446.38" stroke="#E4E4E4" stroke-width="0.8"/>
<line x1="32.4" y1="456.52" x2="229.5" y2="456.52" stroke="#DCDCDC" stroke-width="0.8"/>
<line x1="51.5" y1="371.4" x2="51.5" y2="460.4" stroke="#DFDFDF" stroke-width="0.7"/>
<line x1="83.3" y1="371.4" x2="83.3" y2="460.4" stroke="#DFDFDF" stroke-width="0.7"/>
<line x1="115.1" y1="371.4" x2="115.1" y2="460.4" stroke="#DFDFDF" stroke-width="0.7"/>
<line x1="146.9" y1="371.4" x2="146.9" y2="460.4" stroke="#DFDFDF" stroke-width="0.7"/>
<line x1="178.7" y1="371.4" x2="178.7" y2="460.4" stroke="#DFDFDF" stroke-width="0.7"/>
<line x1="210.5" y1="371.4" x2="210.5" y2="460.4" stroke="#DFDFDF" stroke-width="0.7"/>
<text x="31.4" y="379.29999999999995" font-size="11" fill="#333" text-anchor="end" font-weight="normal">0</text>
<text x="31.4" y="399.5799999999999" font-size="11" fill="#333" text-anchor="end" font-weight="normal">-2</text>
<text x="31.4" y="419.85999999999996" font-size="11" fill="#333" text-anchor="end" font-weight="normal">-4</text>
<text x="31.4" y="440.14" font-size="11" fill="#333" text-anchor="end" font-weight="normal">-6</text>
<text x="31.4" y="460.41999999999996" font-size="11" fill="#333" text-anchor="end" font-weight="normal">-8</text>
<text x="60.0" y="463.9" font-size="10.4" fill="#444" text-anchor="end" font-weight="normal" transform="rotate(-90 60.0 463.9)" textLength="31.34" lengthAdjust="spacingAndGlyphs">RP4-11</text>
<text x="91.8" y="463.9" font-size="10.4" fill="#444" text-anchor="end" font-weight="normal" transform="rotate(-90 91.8 463.9)" textLength="49.37" lengthAdjust="spacingAndGlyphs">pMNCN064</text>
<text x="123.6" y="463.9" font-size="10.4" fill="#444" text-anchor="end" font-weight="normal" transform="rotate(-90 123.6 463.9)" textLength="46.23" lengthAdjust="spacingAndGlyphs">pYKBP039</text>
<text x="155.4" y="463.9" font-size="10.4" fill="#444" text-anchor="end" font-weight="normal" transform="rotate(-90 155.4 463.9)" textLength="29.94" lengthAdjust="spacingAndGlyphs">pKPC2</text>
<text x="187.2" y="463.9" font-size="10.4" fill="#444" text-anchor="end" font-weight="normal" transform="rotate(-90 187.2 463.9)" textLength="38.88" lengthAdjust="spacingAndGlyphs">pVS0309</text>
<text x="219.0" y="463.9" font-size="10.4" fill="#444" text-anchor="end" font-weight="normal" transform="rotate(-90 219.0 463.9)" textLength="38.88" lengthAdjust="spacingAndGlyphs">pVS1035</text>
<g clip-path="url(#cp0)">
<rect x="39.3" y="419.3" width="24.4" height="7.0" fill="#7FA3BF" stroke="#333333" stroke-width="1.1"/>
<line x1="39.3" y1="422.6" x2="63.7" y2="422.6" stroke="#333" stroke-width="1.8"/>
<line x1="83.6" y1="405.3" x2="83.6" y2="409.5" stroke="#333333" stroke-width="1.0"/>
<rect x="71.39999999999999" y="409.5" width="24.4" height="9.800000000000011" fill="#7FA3BF" stroke="#333333" stroke-width="1.1"/>
<line x1="71.39999999999999" y1="417.8" x2="95.8" y2="417.8" stroke="#333" stroke-width="1.8"/>
<line x1="115.4" y1="412.0" x2="115.4" y2="419.3" stroke="#333333" stroke-width="1.0"/>
<rect x="103.2" y="419.3" width="24.4" height="5.899999999999977" fill="#7FA3BF" stroke="#333333" stroke-width="1.1"/>
<line x1="103.2" y1="422.6" x2="127.60000000000001" y2="422.6" stroke="#333" stroke-width="1.8"/>
<rect x="135.5" y="398.3" width="24.4" height="11.899999999999977" fill="#F5BDBD" stroke="#333333" stroke-width="1.1"/>
<line x1="135.5" y1="407.5" x2="159.89999999999998" y2="407.5" stroke="#333" stroke-width="1.8"/>
<rect x="167.20000000000002" y="401.0" width="24.4" height="4.0" fill="#F5BDBD" stroke="#333333" stroke-width="1.1"/>
<line x1="167.20000000000002" y1="403.4" x2="191.6" y2="403.4" stroke="#333" stroke-width="1.8"/>
<line x1="211.1" y1="390.1" x2="211.1" y2="398.3" stroke="#333333" stroke-width="1.0"/>
<rect x="198.9" y="398.3" width="24.4" height="12.899999999999977" fill="#F5BDBD" stroke="#333333" stroke-width="1.1"/>
<line x1="198.9" y1="401.0" x2="223.29999999999998" y2="401.0" stroke="#333" stroke-width="1.8"/>
<circle cx="48.7" cy="413.1" r="3.85" fill="none" stroke="#222" stroke-width="0.8"/>
<circle cx="50" cy="417.8" r="3.85" fill="none" stroke="#222" stroke-width="0.8"/>
<circle cx="45.6" cy="423.2" r="3.85" fill="none" stroke="#222" stroke-width="0.8"/>
<circle cx="45.6" cy="426.3" r="3.85" fill="none" stroke="#222" stroke-width="0.8"/>
<circle cx="47.5" cy="444.3" r="3.85" fill="none" stroke="#222" stroke-width="0.8"/>
<path d="M84.9 397.34999999999997L89.75 402.2L84.9 407.05L80.05000000000001 402.2Z" fill="#5388A8" stroke="#222" stroke-width="0.8"/>
<path d="M77.3 417.15L82.14999999999999 422L77.3 426.85L72.45 422Z" fill="#5388A8" stroke="#222" stroke-width="0.8"/>
<path d="M86.5 412.45L91.35 417.3L86.5 422.15000000000003L81.65 417.3Z" fill="#5388A8" stroke="#222" stroke-width="0.8"/>
<path d="M79.5 455.54999999999995L84.35 460.4L79.5 465.25L74.65 460.4Z" fill="#5388A8" stroke="#222" stroke-width="0.8"/>
<path d="M90 455.54999999999995L94.85 460.4L90 465.25L85.15 460.4Z" fill="#5388A8" stroke="#222" stroke-width="0.8"/>
<path d="M121.7 405.76L126.9 414.44399999999996L116.5 414.44399999999996Z" fill="#5388A8" stroke="#222" stroke-width="0.8"/>
<path d="M113.5 416.26L118.7 424.94399999999996L108.3 424.94399999999996Z" fill="#5388A8" stroke="#222" stroke-width="0.8"/>
<path d="M115.8 417.06L121.0 425.744L110.6 425.744Z" fill="#5388A8" stroke="#222" stroke-width="0.8"/>
<path d="M115.5 426.86L120.7 435.544L110.3 435.544Z" fill="#5388A8" stroke="#222" stroke-width="0.8"/>
<path d="M120.6 455.46L125.8 464.144L115.39999999999999 464.144Z" fill="#5388A8" stroke="#222" stroke-width="0.8"/>
<path d="M142.1 391.06L147.29999999999998 399.744L136.9 399.744Z" fill="none" stroke="#222" stroke-width="0.8"/>
<path d="M148.7 393.56L153.89999999999998 402.244L143.5 402.244Z" fill="none" stroke="#222" stroke-width="0.8"/>
<path d="M144.6 404.06L149.79999999999998 412.744L139.4 412.744Z" fill="none" stroke="#222" stroke-width="0.8"/>
<path d="M150.7 404.56L155.89999999999998 413.244L145.5 413.244Z" fill="none" stroke="#222" stroke-width="0.8"/>
<path d="M147 402.06L152.2 410.744L141.8 410.744Z" fill="none" stroke="#222" stroke-width="0.8"/>
<circle cx="173.7" cy="389.3" r="3.85" fill="#F39C9E" stroke="#222" stroke-width="0.8"/>
<circle cx="174.9" cy="403" r="3.85" fill="#F39C9E" stroke="#222" stroke-width="0.8"/>
<circle cx="185.1" cy="400.4" r="3.85" fill="#F39C9E" stroke="#222" stroke-width="0.8"/>
<circle cx="182.5" cy="404.7" r="3.85" fill="#F39C9E" stroke="#222" stroke-width="0.8"/>
<circle cx="173.7" cy="410.8" r="3.85" fill="#F39C9E" stroke="#222" stroke-width="0.8"/>
<rect x="202.2" y="386.3" width="6.8" height="6.8" fill="#F39C9E" stroke="#222" stroke-width="0.8"/>
<rect x="201.2" y="397.0" width="6.8" height="6.8" fill="#F39C9E" stroke="#222" stroke-width="0.8"/>
<rect x="213.29999999999998" y="394.90000000000003" width="6.8" height="6.8" fill="#F39C9E" stroke="#222" stroke-width="0.8"/>
<rect x="202.6" y="407.8" width="6.8" height="6.8" fill="#F39C9E" stroke="#222" stroke-width="0.8"/>
<rect x="208.2" y="410.3" width="6.8" height="6.8" fill="#F39C9E" stroke="#222" stroke-width="0.8"/>
</g>
<path d="M51.9 393.2L115.0 393.2M83.6 393.2L83.6 374.7L179.6 374.7L179.6 381.9M147.5 381.9L211.0 381.9" fill="none" stroke="#333" stroke-width="1.3"/>
<path d="M123.38 370.20L123.38 367.85M123.38 370.20L125.61 369.47M123.38 370.20L124.76 372.10M123.38 370.20L121.99 372.10M123.38 370.20L121.14 369.47" stroke="#333333" stroke-width="0.95" fill="none" stroke-linecap="round"/>
<path d="M128.72 370.20L128.72 367.85M128.72 370.20L130.96 369.47M128.72 370.20L130.11 372.10M128.72 370.20L127.34 372.10M128.72 370.20L126.49 369.47" stroke="#333333" stroke-width="0.95" fill="none" stroke-linecap="round"/>
<path d="M134.08 370.20L134.08 367.85M134.08 370.20L136.31 369.47M134.08 370.20L135.46 372.10M134.08 370.20L132.69 372.10M134.08 370.20L131.84 369.47" stroke="#333333" stroke-width="0.95" fill="none" stroke-linecap="round"/>
<path d="M139.43 370.20L139.43 367.85M139.43 370.20L141.66 369.47M139.43 370.20L140.81 372.10M139.43 370.20L138.04 372.10M139.43 370.20L137.19 369.47" stroke="#333333" stroke-width="0.95" fill="none" stroke-linecap="round"/>
<text x="259.4" y="359.5" font-size="15" fill="#222" text-anchor="start" font-weight="normal" textLength="20.2" lengthAdjust="spacingAndGlyphs">D2</text>
<line x1="259.8" y1="375.4" x2="457.3" y2="375.4" stroke="#DCDCDC" stroke-width="0.8"/>
<line x1="259.8" y1="385.53999999999996" x2="457.3" y2="385.53999999999996" stroke="#E4E4E4" stroke-width="0.8"/>
<line x1="259.8" y1="395.67999999999995" x2="457.3" y2="395.67999999999995" stroke="#DCDCDC" stroke-width="0.8"/>
<line x1="259.8" y1="405.82" x2="457.3" y2="405.82" stroke="#E4E4E4" stroke-width="0.8"/>
<line x1="259.8" y1="415.96" x2="457.3" y2="415.96" stroke="#DCDCDC" stroke-width="0.8"/>
<line x1="259.8" y1="426.09999999999997" x2="457.3" y2="426.09999999999997" stroke="#E4E4E4" stroke-width="0.8"/>
<line x1="259.8" y1="436.24" x2="457.3" y2="436.24" stroke="#DCDCDC" stroke-width="0.8"/>
<line x1="259.8" y1="446.38" x2="457.3" y2="446.38" stroke="#E4E4E4" stroke-width="0.8"/>
<line x1="259.8" y1="456.52" x2="457.3" y2="456.52" stroke="#DCDCDC" stroke-width="0.8"/>
<line x1="279.3" y1="371.4" x2="279.3" y2="460.4" stroke="#DFDFDF" stroke-width="0.7"/>
<line x1="311.1" y1="371.4" x2="311.1" y2="460.4" stroke="#DFDFDF" stroke-width="0.7"/>
<line x1="342.90000000000003" y1="371.4" x2="342.90000000000003" y2="460.4" stroke="#DFDFDF" stroke-width="0.7"/>
<line x1="374.70000000000005" y1="371.4" x2="374.70000000000005" y2="460.4" stroke="#DFDFDF" stroke-width="0.7"/>
<line x1="406.5" y1="371.4" x2="406.5" y2="460.4" stroke="#DFDFDF" stroke-width="0.7"/>
<line x1="438.3" y1="371.4" x2="438.3" y2="460.4" stroke="#DFDFDF" stroke-width="0.7"/>
<text x="287.8" y="463.9" font-size="10.4" fill="#444" text-anchor="end" font-weight="normal" transform="rotate(-90 287.8 463.9)" textLength="31.34" lengthAdjust="spacingAndGlyphs">RP4-11</text>
<text x="319.6" y="463.9" font-size="10.4" fill="#444" text-anchor="end" font-weight="normal" transform="rotate(-90 319.6 463.9)" textLength="49.37" lengthAdjust="spacingAndGlyphs">pMNCN064</text>
<text x="351.40000000000003" y="463.9" font-size="10.4" fill="#444" text-anchor="end" font-weight="normal" transform="rotate(-90 351.40000000000003 463.9)" textLength="46.23" lengthAdjust="spacingAndGlyphs">pYKBP039</text>
<text x="383.20000000000005" y="463.9" font-size="10.4" fill="#444" text-anchor="end" font-weight="normal" transform="rotate(-90 383.20000000000005 463.9)" textLength="29.94" lengthAdjust="spacingAndGlyphs">pKPC2</text>
<text x="415.0" y="463.9" font-size="10.4" fill="#444" text-anchor="end" font-weight="normal" transform="rotate(-90 415.0 463.9)" textLength="38.88" lengthAdjust="spacingAndGlyphs">pVS0309</text>
<text x="446.8" y="463.9" font-size="10.4" fill="#444" text-anchor="end" font-weight="normal" transform="rotate(-90 446.8 463.9)" textLength="38.88" lengthAdjust="spacingAndGlyphs">pVS1035</text>
<g clip-path="url(#cp1)">
<rect x="266.40000000000003" y="425.9" width="24.4" height="6.300000000000011" fill="#7FA3BF" stroke="#333333" stroke-width="1.1"/>
<line x1="266.40000000000003" y1="427.3" x2="290.8" y2="427.3" stroke="#333" stroke-width="1.8"/>
<line x1="310.5" y1="432.3" x2="310.5" y2="441.0" stroke="#333333" stroke-width="1.0"/>
<rect x="298.3" y="423.1" width="24.4" height="9.199999999999989" fill="#7FA3BF" stroke="#333333" stroke-width="1.1"/>
<line x1="298.3" y1="430.8" x2="322.7" y2="430.8" stroke="#333" stroke-width="1.8"/>
<line x1="342.7" y1="407" x2="342.7" y2="410.7" stroke="#333333" stroke-width="1.0"/>
<line x1="342.7" y1="426.6" x2="342.7" y2="438.8" stroke="#333333" stroke-width="1.0"/>
<rect x="330.5" y="410.7" width="24.4" height="15.900000000000034" fill="#7FA3BF" stroke="#333333" stroke-width="1.1"/>
<line x1="330.5" y1="412.7" x2="354.9" y2="412.7" stroke="#333" stroke-width="1.8"/>
<rect x="362.40000000000003" y="403.4" width="24.4" height="4.400000000000034" fill="#F5BDBD" stroke="#333333" stroke-width="1.1"/>
<line x1="362.40000000000003" y1="405.4" x2="386.8" y2="405.4" stroke="#333" stroke-width="1.8"/>
<rect x="394.40000000000003" y="384.6" width="24.4" height="10.299999999999955" fill="#F5BDBD" stroke="#333333" stroke-width="1.1"/>
<line x1="394.40000000000003" y1="386.3" x2="418.8" y2="386.3" stroke="#333" stroke-width="1.8"/>
<line x1="438.6" y1="390.5" x2="438.6" y2="394.9" stroke="#333333" stroke-width="1.0"/>
<line x1="438.6" y1="402.9" x2="438.6" y2="412.4" stroke="#333333" stroke-width="1.0"/>
<rect x="426.40000000000003" y="394.9" width="24.4" height="8.0" fill="#F5BDBD" stroke="#333333" stroke-width="1.1"/>
<line x1="426.40000000000003" y1="402.2" x2="450.8" y2="402.2" stroke="#333" stroke-width="1.8"/>
<circle cx="274.9" cy="422.9" r="3.85" fill="none" stroke="#222" stroke-width="0.8"/>
<circle cx="281" cy="425.4" r="3.85" fill="none" stroke="#222" stroke-width="0.8"/>
<circle cx="272" cy="431.5" r="3.85" fill="none" stroke="#222" stroke-width="0.8"/>
<circle cx="280.5" cy="433.2" r="3.85" fill="none" stroke="#222" stroke-width="0.8"/>
<circle cx="277" cy="428" r="3.85" fill="none" stroke="#222" stroke-width="0.8"/>
<path d="M310.5 401.45L315.35 406.3L310.5 411.15000000000003L305.65 406.3Z" fill="#5388A8" stroke="#222" stroke-width="0.8"/>
<path d="M305.6 418.54999999999995L310.45000000000005 423.4L305.6 428.25L300.75 423.4Z" fill="#5388A8" stroke="#222" stroke-width="0.8"/>
<path d="M305.6 427.34999999999997L310.45000000000005 432.2L305.6 437.05L300.75 432.2Z" fill="#5388A8" stroke="#222" stroke-width="0.8"/>
<path d="M303.2 423.45L308.05 428.3L303.2 433.15000000000003L298.34999999999997 428.3Z" fill="#5388A8" stroke="#222" stroke-width="0.8"/>
<path d="M306.6 435.65L311.45000000000005 440.5L306.6 445.35L301.75 440.5Z" fill="#5388A8" stroke="#222" stroke-width="0.8"/>
<path d="M346.3 403.56L351.5 412.244L341.1 412.244Z" fill="#5388A8" stroke="#222" stroke-width="0.8"/>
<path d="M347 409.06L352.2 417.744L341.8 417.744Z" fill="#5388A8" stroke="#222" stroke-width="0.8"/>
<path d="M342.7 434.56L347.9 443.244L337.5 443.244Z" fill="#5388A8" stroke="#222" stroke-width="0.8"/>
<path d="M341.5 455.46L346.7 464.144L336.3 464.144Z" fill="#5388A8" stroke="#222" stroke-width="0.8"/>
<path d="M347.6 455.46L352.8 464.144L342.40000000000003 464.144Z" fill="#5388A8" stroke="#222" stroke-width="0.8"/>
<path d="M374.4 394.56L379.59999999999997 403.244L369.2 403.244Z" fill="none" stroke="#222" stroke-width="0.8"/>
<path d="M380.5 397.56L385.7 406.244L375.3 406.244Z" fill="none" stroke="#222" stroke-width="0.8"/>
<path d="M374.4 413.56L379.59999999999997 422.244L369.2 422.244Z" fill="none" stroke="#222" stroke-width="0.8"/>
<path d="M371 400.06L376.2 408.744L365.8 408.744Z" fill="none" stroke="#222" stroke-width="0.8"/>
<path d="M380 401.06L385.2 409.744L374.8 409.744Z" fill="none" stroke="#222" stroke-width="0.8"/>
<circle cx="407.3" cy="383.9" r="3.85" fill="#F39C9E" stroke="#222" stroke-width="0.8"/>
<circle cx="412.9" cy="385.6" r="3.85" fill="#F39C9E" stroke="#222" stroke-width="0.8"/>
<circle cx="401.7" cy="395.6" r="3.85" fill="#F39C9E" stroke="#222" stroke-width="0.8"/>
<circle cx="412.2" cy="394.9" r="3.85" fill="#F39C9E" stroke="#222" stroke-width="0.8"/>
<circle cx="403" cy="385" r="3.85" fill="#F39C9E" stroke="#222" stroke-width="0.8"/>
<rect x="439.3" y="387.1" width="6.8" height="6.8" fill="#F39C9E" stroke="#222" stroke-width="0.8"/>
<rect x="433.70000000000005" y="390.70000000000005" width="6.8" height="6.8" fill="#F39C9E" stroke="#222" stroke-width="0.8"/>
<rect x="433.70000000000005" y="395.90000000000003" width="6.8" height="6.8" fill="#F39C9E" stroke="#222" stroke-width="0.8"/>
<rect x="435.6" y="400.0" width="6.8" height="6.8" fill="#F39C9E" stroke="#222" stroke-width="0.8"/>
<rect x="434.90000000000003" y="409.0" width="6.8" height="6.8" fill="#F39C9E" stroke="#222" stroke-width="0.8"/>
</g>
<path d="M279.3 389.3L342.7 389.3M311.0 389.3L311.0 371.0L407.3 371.0L407.3 378.3M375.1 378.3L438.3 378.3" fill="none" stroke="#333" stroke-width="1.3"/>
<path d="M351.18 364.80L351.18 362.45M351.18 364.80L353.41 364.07M351.18 364.80L352.56 366.70M351.18 364.80L349.79 366.70M351.18 364.80L348.94 364.07" stroke="#333333" stroke-width="0.95" fill="none" stroke-linecap="round"/>
<path d="M356.52 364.80L356.52 362.45M356.52 364.80L358.76 364.07M356.52 364.80L357.91 366.70M356.52 364.80L355.14 366.70M356.52 364.80L354.29 364.07" stroke="#333333" stroke-width="0.95" fill="none" stroke-linecap="round"/>
<path d="M361.88 364.80L361.88 362.45M361.88 364.80L364.11 364.07M361.88 364.80L363.26 366.70M361.88 364.80L360.49 366.70M361.88 364.80L359.64 364.07" stroke="#333333" stroke-width="0.95" fill="none" stroke-linecap="round"/>
<path d="M367.22 364.80L367.22 362.45M367.22 364.80L369.46 364.07M367.22 364.80L368.61 366.70M367.22 364.80L365.84 366.70M367.22 364.80L364.99 364.07" stroke="#333333" stroke-width="0.95" fill="none" stroke-linecap="round"/>
<text x="485.5" y="359.5" font-size="15" fill="#222" text-anchor="start" font-weight="normal" textLength="20.5" lengthAdjust="spacingAndGlyphs">D3</text>
<line x1="487.1" y1="375.4" x2="684.5" y2="375.4" stroke="#DCDCDC" stroke-width="0.8"/>
<line x1="487.1" y1="385.53999999999996" x2="684.5" y2="385.53999999999996" stroke="#E4E4E4" stroke-width="0.8"/>
<line x1="487.1" y1="395.67999999999995" x2="684.5" y2="395.67999999999995" stroke="#DCDCDC" stroke-width="0.8"/>
<line x1="487.1" y1="405.82" x2="684.5" y2="405.82" stroke="#E4E4E4" stroke-width="0.8"/>
<line x1="487.1" y1="415.96" x2="684.5" y2="415.96" stroke="#DCDCDC" stroke-width="0.8"/>
<line x1="487.1" y1="426.09999999999997" x2="684.5" y2="426.09999999999997" stroke="#E4E4E4" stroke-width="0.8"/>
<line x1="487.1" y1="436.24" x2="684.5" y2="436.24" stroke="#DCDCDC" stroke-width="0.8"/>
<line x1="487.1" y1="446.38" x2="684.5" y2="446.38" stroke="#E4E4E4" stroke-width="0.8"/>
<line x1="487.1" y1="456.52" x2="684.5" y2="456.52" stroke="#DCDCDC" stroke-width="0.8"/>
<line x1="506.6" y1="371.4" x2="506.6" y2="460.4" stroke="#DFDFDF" stroke-width="0.7"/>
<line x1="538.4" y1="371.4" x2="538.4" y2="460.4" stroke="#DFDFDF" stroke-width="0.7"/>
<line x1="570.2" y1="371.4" x2="570.2" y2="460.4" stroke="#DFDFDF" stroke-width="0.7"/>
<line x1="602.0" y1="371.4" x2="602.0" y2="460.4" stroke="#DFDFDF" stroke-width="0.7"/>
<line x1="633.8000000000001" y1="371.4" x2="633.8000000000001" y2="460.4" stroke="#DFDFDF" stroke-width="0.7"/>
<line x1="665.6" y1="371.4" x2="665.6" y2="460.4" stroke="#DFDFDF" stroke-width="0.7"/>
<text x="515.1" y="463.9" font-size="10.4" fill="#444" text-anchor="end" font-weight="normal" transform="rotate(-90 515.1 463.9)" textLength="31.34" lengthAdjust="spacingAndGlyphs">RP4-11</text>
<text x="546.9" y="463.9" font-size="10.4" fill="#444" text-anchor="end" font-weight="normal" transform="rotate(-90 546.9 463.9)" textLength="49.37" lengthAdjust="spacingAndGlyphs">pMNCN064</text>
<text x="578.7" y="463.9" font-size="10.4" fill="#444" text-anchor="end" font-weight="normal" transform="rotate(-90 578.7 463.9)" textLength="46.23" lengthAdjust="spacingAndGlyphs">pYKBP039</text>
<text x="610.5" y="463.9" font-size="10.4" fill="#444" text-anchor="end" font-weight="normal" transform="rotate(-90 610.5 463.9)" textLength="29.94" lengthAdjust="spacingAndGlyphs">pKPC2</text>
<text x="642.3000000000001" y="463.9" font-size="10.4" fill="#444" text-anchor="end" font-weight="normal" transform="rotate(-90 642.3000000000001 463.9)" textLength="38.88" lengthAdjust="spacingAndGlyphs">pVS0309</text>
<text x="674.1" y="463.9" font-size="10.4" fill="#444" text-anchor="end" font-weight="normal" transform="rotate(-90 674.1 463.9)" textLength="38.88" lengthAdjust="spacingAndGlyphs">pVS1035</text>
<g clip-path="url(#cp2)">
<rect x="493.90000000000003" y="421.0" width="24.4" height="9.199999999999989" fill="#7FA3BF" stroke="#333333" stroke-width="1.1"/>
<line x1="493.90000000000003" y1="425.9" x2="518.3000000000001" y2="425.9" stroke="#333" stroke-width="1.8"/>
<line x1="538.3" y1="418" x2="538.3" y2="426.1" stroke="#333333" stroke-width="1.0"/>
<rect x="526.0999999999999" y="426.1" width="24.4" height="11.0" fill="#7FA3BF" stroke="#333333" stroke-width="1.1"/>
<line x1="526.0999999999999" y1="432.2" x2="550.5" y2="432.2" stroke="#333" stroke-width="1.8"/>
<rect x="557.8" y="418.0" width="24.4" height="6.899999999999977" fill="#7FA3BF" stroke="#333333" stroke-width="1.1"/>
<line x1="557.8" y1="421.7" x2="582.2" y2="421.7" stroke="#333" stroke-width="1.8"/>
<rect x="589.9" y="401.0" width="24.4" height="5.300000000000011" fill="#F5BDBD" stroke="#333333" stroke-width="1.1"/>
<line x1="589.9" y1="403.9" x2="614.3000000000001" y2="403.9" stroke="#333" stroke-width="1.8"/>
<rect x="621.5999999999999" y="392.4" width="24.4" height="3.2000000000000455" fill="#F5BDBD" stroke="#333333" stroke-width="1.1"/>
<line x1="621.5999999999999" y1="394.1" x2="646.0" y2="394.1" stroke="#333" stroke-width="1.8"/>
<rect x="653.3" y="390.0" width="24.4" height="3.1999999999999886" fill="#F5BDBD" stroke="#333333" stroke-width="1.1"/>
<line x1="653.3" y1="391.7" x2="677.7" y2="391.7" stroke="#333" stroke-width="1.8"/>
<circle cx="511" cy="397.8" r="3.85" fill="none" stroke="#222" stroke-width="0.8"/>
<circle cx="506.6" cy="420.5" r="3.85" fill="none" stroke="#222" stroke-width="0.8"/>
<circle cx="504.1" cy="425.9" r="3.85" fill="none" stroke="#222" stroke-width="0.8"/>
<circle cx="504.1" cy="430.2" r="3.85" fill="none" stroke="#222" stroke-width="0.8"/>
<circle cx="512" cy="433.9" r="3.85" fill="none" stroke="#222" stroke-width="0.8"/>
<path d="M543.7 413.15L548.5500000000001 418L543.7 422.85L538.85 418Z" fill="#5388A8" stroke="#222" stroke-width="0.8"/>
<path d="M535.9 424.15L540.75 429L535.9 433.85L531.05 429Z" fill="#5388A8" stroke="#222" stroke-width="0.8"/>
<path d="M540.2 430.25L545.0500000000001 435.1L540.2 439.95000000000005L535.35 435.1Z" fill="#5388A8" stroke="#222" stroke-width="0.8"/>
<path d="M532.9 438.04999999999995L537.75 442.9L532.9 447.75L528.05 442.9Z" fill="#5388A8" stroke="#222" stroke-width="0.8"/>
<path d="M534.6 455.54999999999995L539.45 460.4L534.6 465.25L529.75 460.4Z" fill="#5388A8" stroke="#222" stroke-width="0.8"/>
<path d="M575.4 410.06L580.6 418.744L570.1999999999999 418.744Z" fill="#5388A8" stroke="#222" stroke-width="0.8"/>
<path d="M574.9 422.56L580.1 431.244L569.6999999999999 431.244Z" fill="#5388A8" stroke="#222" stroke-width="0.8"/>
<path d="M565.1 455.46L570.3000000000001 464.144L559.9 464.144Z" fill="#5388A8" stroke="#222" stroke-width="0.8"/>
<path d="M569.5 455.46L574.7 464.144L564.3 464.144Z" fill="#5388A8" stroke="#222" stroke-width="0.8"/>
<path d="M574 455.46L579.2 464.144L568.8 464.144Z" fill="#5388A8" stroke="#222" stroke-width="0.8"/>
<path d="M597.2 387.06L602.4000000000001 395.744L592.0 395.744Z" fill="none" stroke="#222" stroke-width="0.8"/>
<path d="M603.5 394.56L608.7 403.244L598.3 403.244Z" fill="none" stroke="#222" stroke-width="0.8"/>
<path d="M606.5 401.56L611.7 410.244L601.3 410.244Z" fill="none" stroke="#222" stroke-width="0.8"/>
<path d="M601.1 407.26L606.3000000000001 415.94399999999996L595.9 415.94399999999996Z" fill="none" stroke="#222" stroke-width="0.8"/>
<path d="M603 400.06L608.2 408.744L597.8 408.744Z" fill="none" stroke="#222" stroke-width="0.8"/>
<circle cx="630.9" cy="385.6" r="3.85" fill="#F39C9E" stroke="#222" stroke-width="0.8"/>
<circle cx="627.2" cy="393.2" r="3.85" fill="#F39C9E" stroke="#222" stroke-width="0.8"/>
<circle cx="635.2" cy="394.1" r="3.85" fill="#F39C9E" stroke="#222" stroke-width="0.8"/>
<circle cx="637" cy="395.6" r="3.85" fill="#F39C9E" stroke="#222" stroke-width="0.8"/>
<circle cx="640.1" cy="397.3" r="3.85" fill="#F39C9E" stroke="#222" stroke-width="0.8"/>
<rect x="663.6" y="384.20000000000005" width="6.8" height="6.8" fill="#F39C9E" stroke="#222" stroke-width="0.8"/>
<rect x="666.0" y="386.1" width="6.8" height="6.8" fill="#F39C9E" stroke="#222" stroke-width="0.8"/>
<rect x="657.9" y="389.8" width="6.8" height="6.8" fill="#F39C9E" stroke="#222" stroke-width="0.8"/>
<rect x="659.9" y="401.20000000000005" width="6.8" height="6.8" fill="#F39C9E" stroke="#222" stroke-width="0.8"/>
<rect x="661.6" y="385.6" width="6.8" height="6.8" fill="#F39C9E" stroke="#222" stroke-width="0.8"/>
</g>
<path d="M506.6 385.6L570.0 385.6M538.3 385.6L538.3 367.6L634.5 367.6L634.5 374.9M602.1 374.9L665.5 374.9" fill="none" stroke="#333" stroke-width="1.3"/>
<path d="M577.38 363.60L577.38 361.25M577.38 363.60L579.61 362.87M577.38 363.60L578.76 365.50M577.38 363.60L575.99 365.50M577.38 363.60L575.14 362.87" stroke="#333333" stroke-width="0.95" fill="none" stroke-linecap="round"/>
<path d="M582.73 363.60L582.73 361.25M582.73 363.60L584.96 362.87M582.73 363.60L584.11 365.50M582.73 363.60L581.34 365.50M582.73 363.60L580.49 362.87" stroke="#333333" stroke-width="0.95" fill="none" stroke-linecap="round"/>
<path d="M588.07 363.60L588.07 361.25M588.07 363.60L590.31 362.87M588.07 363.60L589.46 365.50M588.07 363.60L586.69 365.50M588.07 363.60L585.84 362.87" stroke="#333333" stroke-width="0.95" fill="none" stroke-linecap="round"/>
<path d="M593.42 363.60L593.42 361.25M593.42 363.60L595.66 362.87M593.42 363.60L594.81 365.50M593.42 363.60L592.04 365.50M593.42 363.60L591.19 362.87" stroke="#333333" stroke-width="0.95" fill="none" stroke-linecap="round"/>
<text x="14.2" y="414.9" font-size="13.5" fill="#222" text-anchor="middle" font-weight="normal" transform="rotate(-90 14.2 414.9)" textLength="46.8" lengthAdjust="spacingAndGlyphs">Log T/R</text>
</svg></body></html>
